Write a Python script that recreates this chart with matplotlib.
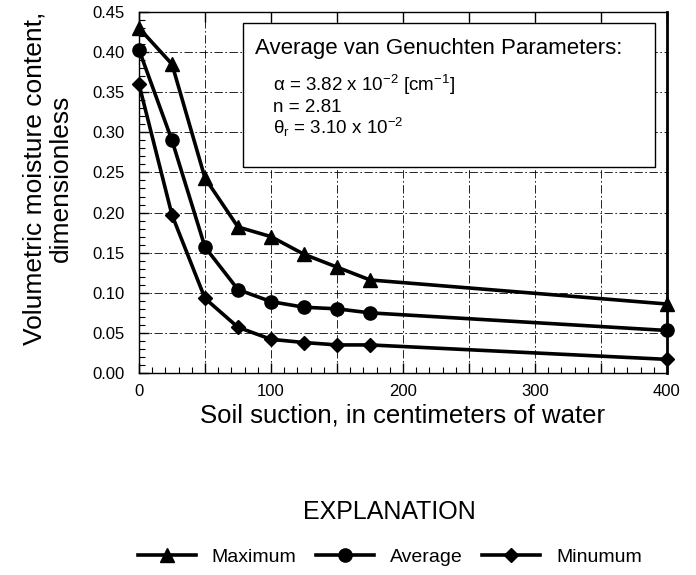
import matplotlib
matplotlib.use("Agg")
import matplotlib.pyplot as plt
from matplotlib.ticker import MultipleLocator, FuncFormatter, FormatStrFormatter
from matplotlib.lines import Line2D
from matplotlib.patches import Rectangle

plt.rcParams['font.family'] = ['Liberation Sans', 'DejaVu Sans']
plt.rcParams['mathtext.fontset'] = 'custom'
plt.rcParams['mathtext.rm'] = 'Liberation Sans'
plt.rcParams['mathtext.default'] = 'regular'

suction = [0, 25, 50, 75, 100, 125, 150, 175, 400]
maximum = [0.430, 0.385, 0.243, 0.182, 0.170, 0.148, 0.132, 0.116, 0.086]
average = [0.403, 0.290, 0.157, 0.104, 0.089, 0.082, 0.080, 0.075, 0.053]
minimum = [0.360, 0.197, 0.093, 0.057, 0.042, 0.038, 0.035, 0.035, 0.017]
series_names = ["Maximum", "Average", "Minumum"]
markers = ["^", "o", "D"]
marker_sizes = [10, 9.5, 7.5]

title_line = "Average van Genuchten Parameters:"
param_lines = ["α = 3.82 x 10$^{-2}$ [cm$^{-1}$]",
               "n = 2.81",
               "θ$_{r}$ = 3.10 x 10$^{-2}$"]

fig = plt.figure(figsize=(6.96, 5.75), dpi=100)
ax = fig.add_axes([0.1997, 0.3513, 0.7586, 0.6278])

for vals, mk, ms, name in zip([maximum, average, minimum], markers, marker_sizes, series_names):
    ax.plot(suction, vals, color="black", lw=2.6, marker=mk, ms=ms, label=name,
            clip_on=False, zorder=5)

ax.set_xlim(0, 400)
ax.set_ylim(0, 0.45)
ax.xaxis.set_major_locator(MultipleLocator(50))
ax.xaxis.set_major_formatter(FuncFormatter(lambda v, p: f"{int(v)}" if int(v) % 100 == 0 else ""))
ax.xaxis.set_minor_locator(MultipleLocator(10))
ax.yaxis.set_major_locator(MultipleLocator(0.05))
ax.yaxis.set_minor_locator(MultipleLocator(0.01))
ax.yaxis.set_major_formatter(FormatStrFormatter('%.2f'))

ax.tick_params(which='both', direction='in', top=True, right=False, labelsize=12)
ax.tick_params(which='major', length=7, width=1)
ax.tick_params(which='minor', length=4.5, width=0.8, top=False)
ax.tick_params(axis='y', which='major', pad=10)
ax.tick_params(axis='x', which='major', pad=8)

ax.grid(True, which='major', color="black", lw=0.6, ls=(0, (10, 3, 2, 3)), zorder=1)
ax.set_axisbelow(True)

for side in ["left", "bottom", "top"]:
    ax.spines[side].set_linewidth(1.0)
ax.spines["right"].set_linewidth(2.0)

ax.set_xlabel("Soil suction, in centimeters of water", fontsize=18.5, labelpad=3)
ax.set_ylabel("Volumetric moisture content,\ndimensionless", fontsize=19,
              linespacing=1.15)
ax.yaxis.set_label_coords(-0.125, 0.54)

# parameter box
ax.add_patch(Rectangle((0.197, 0.571), 0.781, 0.398, transform=ax.transAxes,
                       fc="white", ec="black", lw=1.0, zorder=6))
ax.text(0.219, 0.884, title_line, transform=ax.transAxes, fontsize=16,
        va="baseline", ha="left", zorder=7)
for yv, line in zip([0.782, 0.722, 0.662], param_lines):
    ax.text(0.253, yv, line, transform=ax.transAxes, fontsize=13.5,
            va="baseline", ha="left", zorder=7)

fig.text(0.560, 0.110, "EXPLANATION", fontsize=18, ha="center", va="center")
handles = [Line2D([], [], color="black", lw=2.6, marker=mk, ms=ms)
           for mk, ms in zip(markers, marker_sizes)]
fig.legend(handles, series_names, loc="center", bbox_to_anchor=(0.560, 0.031),
           ncol=3, frameon=False, fontsize=14, handlelength=3.0, columnspacing=1.0,
           handletextpad=0.8, borderpad=0)

fig.savefig("out.png", dpi=100)
